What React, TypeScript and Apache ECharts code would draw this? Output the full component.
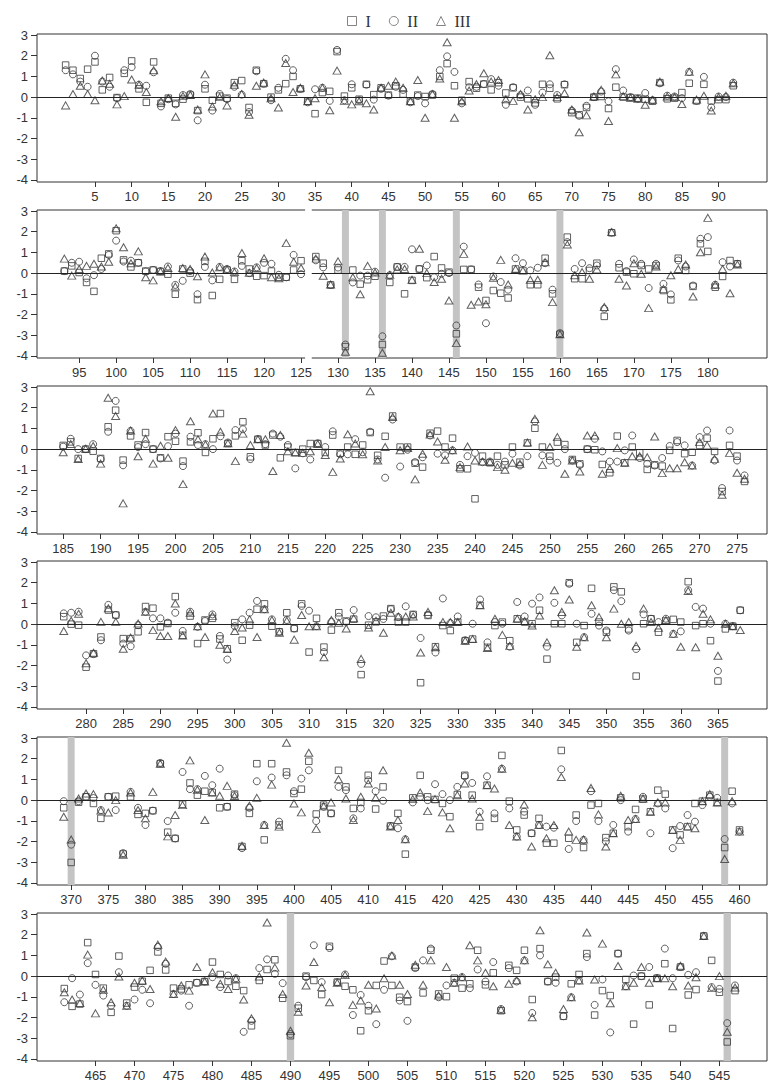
import React, { useEffect, useRef } from "react";
import * as echarts from "echarts";

// ---------- data (residue-indexed values, one array per panel & series) ----------
const P1_START = 1;
const p1I = [1.55,1.3,0.9,1.35,1.7,0.35,0.95,-0.02,1.15,1.75,0.4,-0.25,1.7,-0.3,-0.05,-0.3,-0.1,0.1,-0.65,0.4,-0.15,0.05,-0.05,0.7,0.8,-0.5,1.3,0.65,0,0.35,0.65,1.0,0.4,-0.2,-0.8,0.22,0.28,2.2,0.05,0.45,-0.1,0.62,0.12,0.45,0.1,0.55,0.15,-0.2,0.1,0.03,0.1,1.0,1.62,0.55,-0.15,0.75,0.43,0.63,0.35,0.7,0.2,0.45,0,-0.08,-0.28,0.62,0.43,-0.08,0.6,-0.75,-0.85,-0.5,0,0.03,-0.55,0.48,0,-0.02,-0.05,-0.1,-0.2,0.7,-0.08,-0.05,0.22,0.67,-0.18,0.62,-0.18,-0.12,-0.12,0.55];
const p1II = [1.3,1.1,0.75,0.5,2.0,0.75,0.5,-0.05,1.3,1.45,0.6,0.55,1.2,-0.45,-0.1,-0.35,0.1,0.15,-1.12,0.6,-0.65,0.15,-0.1,0.5,0.12,-0.72,1.25,0.65,-0.15,0.45,1.85,1.3,0.4,-0.25,0.38,0.45,-0.18,2.28,-0.15,0.62,-0.15,0.6,-0.12,0.4,0.07,0.5,0.35,-0.25,0.05,-0.3,0.15,1.3,1.97,1.22,-0.3,0.48,0.5,0.63,0.87,0.55,-0.37,0.48,0.1,0.32,-0.37,0.22,0.62,0.1,0.62,-0.65,-0.9,-0.42,0,0.27,-0.2,1.35,0.32,0,-0.08,0.2,-0.15,0.67,0.07,0.03,-0.05,1.22,-0.18,0.98,-0.5,0.03,0,0.7];
const p1III = [-0.4,0.15,0.55,0.15,-0.15,0.8,0.65,-0.35,0.05,0.85,0.6,0.25,1.3,-0.2,-0.05,-0.95,0.05,0.1,-0.6,1.1,-0.45,0,-0.4,0.6,0.15,-0.85,0.55,0.7,-0.05,-0.5,1.65,0.25,0.45,-0.2,-0.05,0.45,-0.63,1.28,-0.18,-0.35,-0.2,-0.3,-0.6,0.45,0.55,0.75,0.45,-0.2,0.83,-1.0,0.15,0.9,2.65,-1.0,-0.2,0.32,0.63,1.15,0.75,0.83,-0.1,-0.18,0.15,-0.6,-0.1,0,2.02,0,0.2,-0.6,-1.7,-0.88,0.03,0.35,-1.15,1.1,0.05,-0.03,-0.08,-0.37,-0.13,0.75,0.03,0,-0.33,1.22,-0.12,0.07,-0.65,0,0.07,0.67];

const P2_START = 93;
const p2I = [0.1,0.35,0.03,-0.45,-0.88,0.72,0.93,2.05,0.64,0.3,0.5,0.1,0.15,0.08,-0.05,-1.02,0.2,0,-1.28,0.57,-1.08,-0.3,0.15,-0.3,0.6,0.2,-0.15,-0.12,0.1,-0.2,-0.2,0.15,0.6,null,0.8,0.48,-0.57,0.15,-3.55,0.15,-0.53,-0.32,-0.15,-3.45,-0.45,0.3,-1.0,-0.35,0.2,-0.22,0.8,0.25,0.05,-2.93,0.18,0.18,-0.68,-1.32,-0.84,-0.97,-1.2,0.2,0.13,-0.56,-0.56,0.72,-1.0,-2.95,1.74,-0.27,-0.27,0.13,0.48,-2.09,1.95,0.26,0.05,-0.03,0.37,0.2,0.37,-0.84,-1.29,0.72,0.13,-0.64,1.42,1.05,-0.68,-0.16,0.61,0.45];
const p2II = [0.1,0.5,0.55,-0.25,-0.1,0.2,0.88,1.57,0.56,0.6,0.5,0.08,0.15,0.1,0.32,-0.57,-0.37,0.1,-1.02,0.3,-0.35,0.3,0.2,0.08,0.35,0,0.28,0.5,0.45,-0.08,-0.2,0.88,-0.05,null,0.62,0.28,-0.57,0.27,-3.45,-0.45,-0.12,-0.12,0.07,-3.05,-0.1,0.3,0.3,1.15,0.2,0.37,-0.2,-0.03,0,-2.53,1.28,0.18,-0.55,-2.42,-0.16,-0.43,-0.8,0.72,0.48,0.13,0.26,0.48,-0.8,-2.9,1.5,0.2,0.48,0.24,0.37,-1.72,1.96,0.45,0.1,0.66,0.45,-0.72,0.45,-0.52,-1.03,0.61,0.32,-0.6,1.66,1.74,-0.56,0.53,0.32,0.45];
const p2III = [0.7,-0.12,0.2,0.35,0.45,0.32,0.55,2.17,1.25,0.48,1.05,-0.2,-0.35,0.08,0.25,-0.65,0.25,0.2,-0.15,0.8,0.03,0.28,0.18,0.05,0.97,0.02,0.25,0.72,-0.2,-0.25,1.45,0.55,0.25,null,0.7,-0.13,-0.55,0.57,-3.8,-0.2,-1.02,0.35,0.03,-3.85,-0.08,0.18,0.2,-0.32,1.18,0,-0.43,-0.27,-1.32,-3.38,0.93,-1.53,-1.37,-1.5,-0.22,0.64,-0.55,0.2,0.13,-0.32,-0.32,0.53,-1.4,-2.95,1.38,-0.1,0.05,-0.27,0.18,-1.64,1.98,-0.27,-0.6,0.48,-0.03,-1.69,0.32,-0.76,-0.1,0.2,0.42,-1.13,1.01,2.67,-0.56,0.2,-0.97,0.42];

const P3_START = 185;
const p3I = [0.18,0.35,-0.45,0,-0.1,-0.45,1.08,1.88,-0.53,0.64,0.2,0.8,0,-0.42,0.6,0.38,-0.58,0.35,0.79,-0.16,0.5,1.72,0.27,0.64,1.32,-0.37,0.48,0.2,0.68,-0.42,0.1,-0.16,0,0.27,0.27,-0.16,0.68,-0.2,0.1,-0.25,0.2,0.8,-0.3,0.62,1.6,0.1,0.1,-0.68,-0.87,0.77,0.87,0.1,0.53,-0.95,-0.95,-2.4,-0.34,-0.66,-0.34,-0.76,0.1,-0.63,0.3,1.01,0.1,-0.34,0.34,0.22,-0.5,-0.71,0,-0.03,-0.74,-1.14,0.63,-0.66,0.1,-0.18,-0.98,-0.76,-0.82,-0.06,0.42,-0.22,-0.15,0.18,0.53,-0.11,-2.05,0.18,-0.34,-1.56];
const p3II = [0.12,0.5,0,0,0.24,-0.48,0.84,2.33,-0.78,0.88,0.1,0.24,0,-0.45,0.14,0.75,-0.82,0.6,0.2,0.24,0,0.62,0.32,0.92,0.96,-0.48,0.48,0.24,0.75,0.6,0.2,-0.93,-0.2,-0.5,0.28,0.1,0.86,-0.25,-0.25,0.48,-0.15,0.84,-0.5,-1.38,1.43,-0.84,-0.03,-0.63,-0.39,0.66,-0.22,-0.3,-0.06,-0.76,-0.34,-0.18,-0.63,-0.6,-0.76,-0.6,-0.22,-0.79,-0.34,1.34,-0.3,-0.55,-0.66,0,-0.55,-0.76,0,0.5,-0.11,-0.6,-0.6,-0.06,0.66,-0.43,-0.71,-0.79,-0.43,0.15,0.34,0.18,-0.79,0.58,0.9,-0.55,-1.88,0.9,-0.55,-1.27];
const p3III = [-0.15,0.25,-0.48,0.02,0.15,-0.7,2.48,1.6,-2.62,0.9,-0.34,0.5,-0.7,0.16,-0.42,0.92,-1.69,1.35,0.48,0.22,1.72,0.84,0.28,-0.58,0.75,0.2,0.48,0.48,-1.06,0.68,-0.1,-0.16,-0.18,-0.1,0.25,-0.28,-1.1,-0.45,0.72,0.27,-0.25,2.8,-0.55,0.1,1.55,-0.05,0.05,-1.46,-0.22,0.7,0.37,-0.51,-0.05,-0.87,0.13,-0.55,-0.6,-0.62,-0.87,-1.0,-0.66,-0.71,0.32,1.46,-0.76,0.1,0.58,-1.19,-0.55,-1.08,0.66,0.66,-1.19,-0.95,0.05,-0.66,-0.34,-0.34,-0.39,0.61,-1.16,-0.92,-0.92,-0.63,-0.79,0.34,0.18,-0.47,-2.2,-0.18,-1.14,-1.43];

const P4_START = 277;
const p4I = [0.36,0,-0.05,-2.08,-1.43,-0.62,0.68,0.44,-0.7,-0.7,-0.37,0.85,0.77,-0.13,0.03,1.33,-0.54,0.39,-0.94,0.2,0.28,-0.72,-1.19,0.07,-0.78,-0.05,0.72,0.98,-0.1,-0.37,0.55,-0.21,0.98,-1.35,0.28,-1.11,-0.29,0.55,0.15,0.24,-2.44,-0.05,0.11,0.39,0.75,0.1,0.1,0.47,-2.83,0.42,-1.09,-0.07,-0.31,0.1,-0.8,-0.72,0.91,-1.12,-0.07,0.1,-0.8,0.26,0.1,0.02,0.67,-1.69,0.02,0.02,2.0,-0.88,-0.07,1.73,0.1,-0.39,1.8,1.56,-0.23,-2.51,0.02,0.26,-0.39,0.15,0.23,0.1,2.05,-0.07,0.02,-0.8,-2.75,-0.23,-0.1,0.67];
const p4II = [0.52,0.55,0.6,-1.51,-1.45,-0.78,0.93,0.44,-0.94,-1.07,-0.05,0.6,0.28,0.28,0.07,0.55,-0.33,0.6,-0.13,0.15,0.47,-0.57,-1.71,-0.1,0.23,0.55,1.12,0.72,0.23,-0.37,0.2,-0.21,0.88,0.65,-0.1,-1.35,0.11,0.36,0.11,0.68,-1.92,0.39,0.33,0.25,0.72,0.34,0.86,0.45,-0.67,0.45,-1.37,1.24,0.05,0.37,-0.78,0.02,1.19,-0.88,0.1,0.02,-1.09,1.07,0.37,0.99,1.29,-1.09,1.03,0.42,1.95,0.02,-0.63,0.5,-0.07,-0.31,1.64,1.11,-0.31,-1.2,0.47,0.26,0.1,0.26,-0.47,-0.35,1.64,0.83,0.75,0.02,-2.26,0.02,-0.1,0.67];
const p4III = [-0.33,0.16,0.5,-1.89,-1.38,0.11,0.77,0.11,-1.19,-0.65,0.03,0.6,-0.29,-0.57,-0.57,1.0,-0.55,0.55,-0.1,-0.62,0.4,-1.0,-1.2,-0.33,-0.16,0.23,-0.62,0.72,0.2,-0.42,0.16,-0.75,0.44,-0.1,-0.1,-1.6,0.2,0.07,-0.21,0.28,-1.68,-0.16,0.16,-0.42,0.55,0.37,0.37,0.37,-1.37,0.59,-1.12,0.1,0.1,0.1,-0.8,-0.72,0.91,-1.15,0.26,-0.52,-1.05,0.26,0.15,-0.07,0.42,-0.88,1.64,0.59,1.19,-1.09,-0.63,0.91,0.34,-0.63,0.75,0.02,0.1,-1.05,0.75,0.1,-0.18,0.2,-0.47,-1.09,1.6,-1.12,0.5,0.23,-1.53,0.02,-0.1,-0.28];

const P5_START = 369;
const p5I = [-0.37,-3.01,-0.1,0.16,-0.16,-0.88,0.16,0.19,-2.6,0.16,-0.69,-0.64,-0.51,1.76,-1.55,-1.85,-0.2,0.83,0.24,0.43,0.37,-0.37,-0.32,0.29,-2.24,-0.64,1.76,-1.92,1.76,-1.2,1.36,0.32,0.53,1.88,-0.67,-0.24,-0.64,1.44,0.64,-0.4,-0.11,1.2,-0.43,0.64,-1.25,-0.64,-2.61,0.11,1.2,0.16,0.03,-0.16,-0.8,0.27,1.2,0.24,-1.28,0.72,-0.88,2.16,-0.05,-1.44,-0.72,-1.6,-0.88,-2.08,-2.08,2.4,-1.84,-0.72,-2.29,-0.24,-0.16,-1.81,-1.6,0.11,-1.28,-0.45,0.05,-0.56,0.48,0.29,-1.44,-1.68,-1.28,-0.16,-0.05,0.24,-0.11,-2.29,0.43,-1.44];
const p5II = [-0.05,-2.15,-0.05,0.16,0.1,-0.48,0.16,-0.48,-2.56,0.4,-0.37,-1.2,-0.51,1.8,-1.01,-1.85,1.36,0.53,0.53,1.17,0.72,1.52,-0.32,0.24,-2.32,-0.37,0.91,-1.2,1.09,-1.04,1.2,0.43,1.04,1.44,-1.01,-0.32,-0.64,0.64,0.48,-0.88,-0.4,0.96,0.43,-0.03,-1.25,-1.36,-1.89,-0.11,0.16,0,0.77,0.29,0,0.64,1.15,0.83,-0.56,1.15,-0.64,1.52,-0.4,-1.76,-0.56,-1.6,-1.2,-1.28,-1.33,1.49,-2.36,-1.01,-1.92,0.43,-1.01,-2.0,-1.2,0,-1.52,-0.91,0.16,-1.6,-0.16,-0.4,-2.32,-1.25,-0.72,-1.04,-0.24,0.16,0.11,-1.88,-0.16,-1.52];
const p5III = [-0.8,-1.9,0.08,0.32,0.29,-0.5,-0.6,0,-2.64,0.37,-0.48,-0.88,0.4,1.76,-1.75,-0.72,-0.24,1.92,0.5,-0.96,0.37,0.21,0.69,0.2,-2.2,-0.27,0.11,-1.2,0.75,-1.28,2.77,-0.16,-0.59,2.29,-1.39,-0.3,-0.11,1.01,0.08,-0.96,0.16,0.8,0.11,1.44,-1.28,-0.96,-1.89,0.05,0.37,-0.53,0.05,-0.59,-1.36,0.24,0.8,0.08,-0.8,0.72,0.56,1.52,-1.2,-1.76,-0.21,-2.24,-1.2,-1.84,-1.2,1.12,-1.52,-1.92,-1.9,0.59,-0.69,-2.24,-1.6,0.21,-0.96,-0.91,0.08,-0.56,-0.11,-0.11,-1.44,-1.92,-1.28,-1.36,-0.05,0.29,-0.11,-2.84,-0.05,-1.52];

const P6_START = 461;
const p6I = [-0.6,-1.46,-1.35,1.62,0.08,-0.58,-1.75,0.97,-1.3,-0.53,-0.25,0.28,1.17,0.3,-0.58,-0.62,-0.42,-0.32,-0.26,0.68,0.08,-0.26,-0.49,-0.7,-2.4,-0.21,0.32,0.79,-1.07,-2.88,-1.55,0,-0.21,-0.89,1.44,-0.29,-0.49,-0.66,-2.64,-1.67,-0.45,0.73,-0.45,-1.02,-1.23,0.44,-0.81,1.25,-0.86,-0.99,-0.1,-0.58,-0.37,1.25,-0.42,0.16,-1.67,0.52,0.28,1.25,-1.13,1.33,-0.26,-0.05,-1.94,-0.37,0.08,1.09,-1.88,-0.7,-0.94,1.09,-0.16,-2.32,0,-1.39,-0.1,0.6,-2.53,0.44,-0.91,-0.65,1.94,0.76,-0.78,-3.18,-0.7];
const p6II = [-1.26,-0.1,-0.89,0.63,-0.42,-0.94,-1.43,0.19,-1.43,-1.13,-0.66,-1.31,1.41,0.6,-0.86,-0.7,-1.43,-0.32,-0.26,-0.05,-0.53,0.03,-0.1,-2.69,-2.16,0.39,0.81,0.11,-0.34,-2.8,-1.43,-0.05,1.49,-0.29,1.36,-0.3,0.08,-1.88,-0.91,-1.43,-2.32,-0.66,0.96,-1.18,-2.16,0.39,0.76,1.33,-1.02,-0.45,-0.32,-0.05,-0.58,0.32,-0.26,0.68,-1.59,0.39,-0.26,0.76,-1.78,1.0,-0.26,-0.32,-1.94,-1.02,-0.21,0.92,-1.39,-0.16,-2.72,1.09,-0.49,0.03,0,0.44,-0.1,1.33,-0.1,0.44,0.06,0.19,1.94,-0.53,-0.62,-2.27,-0.45];
const p6III = [-0.78,-1.13,-1.3,1.04,-1.8,-0.66,-1.26,-0.02,-1.43,-0.32,-0.21,-0.62,1.52,0.7,-0.86,-0.45,-0.7,0.44,-0.26,0.19,-0.37,-0.62,-0.13,-1.13,-2.04,-0.02,2.59,0.41,-0.86,-2.64,-1.72,-0.45,0.68,-0.53,-1.26,-0.32,0.05,-1.39,-1.18,-0.42,-1.56,-0.1,1.0,-0.42,-0.86,0.55,-0.42,0.76,-0.94,0.44,-0.32,-0.05,1.49,0.76,0.16,-0.49,-1.62,-0.37,-0.2,0.76,-1.99,2.22,0.57,0.16,-1.59,-1.02,-0.21,2.11,-0.16,1.57,-1.31,0.49,-0.49,-0.32,0.44,-0.32,-0.1,-0.1,-0.49,0.5,-0.45,-0.05,1.94,-0.58,0,-2.69,-0.55];

// highlighted residues (grey bars) and the blank gap
const GRAY_BARS = [[], [131, 136, 146, 160], [], [], [370, 458], [490, 546]];
const GAP_BARS = [[], [126], [], [], [], []];

// x tick labels: first / last label of each panel (step 5)
const TICK_FIRST = [5, 95, 185, 280, 370, 465];
const TICK_LAST = [90, 180, 275, 365, 460, 545];
const Y_TICKS = [-4, -3, -2, -1, 0, 1, 2, 3];
const SERIES_NAMES = ["I", "II", "III"];

// ---------- layout ----------
const X_MIN = [-2.9, 89.3, 181.5, 273.4, 365.4, 457.5];
const X_MAX = [96.6, 188, 279, 371.6, 463.7, 551.1];
const Y_MIN = -4.1;
const Y_MAX = 3.05;
const GRID_TOPS = [34, 210, 386, 561, 737, 913];
const GRID_H = 148;
const GRID_LEFT = 37;
const GRID_W = 730;

const PANELS = [
  { start: P1_START, vals: [p1I, p1II, p1III] },
  { start: P2_START, vals: [p2I, p2II, p2III] },
  { start: P3_START, vals: [p3I, p3II, p3III] },
  { start: P4_START, vals: [p4I, p4II, p4III] },
  { start: P5_START, vals: [p5I, p5II, p5III] },
  { start: P6_START, vals: [p6I, p6II, p6III] },
];

const SYMBOLS = ["rect", "circle", "triangle"];
const SYMBOL_SIZES: any[] = [6.5, 7, [8, 7]];
const INK = "#3a3a3a";
const LABEL_FONT = "'Liberation Sans', Arial, sans-serif";

function ticks(a: number, b: number) {
  const out: number[] = [];
  for (let v = a; v <= b; v += 5) out.push(v);
  return out;
}

export default function App() {
  const ref = useRef<HTMLDivElement>(null);

  useEffect(() => {
    document.body.style.margin = "0";
    const chart = echarts.init(ref.current!, null, { renderer: "svg" });

    const grids: any[] = [];
    const xAxes: any[] = [];
    const yAxes: any[] = [];
    const series: any[] = [];

    PANELS.forEach((p, i) => {
      grids.push({
        left: GRID_LEFT,
        top: GRID_TOPS[i],
        width: GRID_W,
        height: GRID_H,
        show: true,
        borderColor: "#333",
        borderWidth: 1,
        backgroundColor: "transparent",
        containLabel: false,
      });
      const xt = ticks(TICK_FIRST[i], TICK_LAST[i]);
      xAxes.push({
        type: "value",
        gridIndex: i,
        min: X_MIN[i],
        max: X_MAX[i],
        axisLine: { show: false, onZero: false },
        splitLine: { show: false },
        axisTick: { show: true, customValues: xt, length: 5, inside: false, lineStyle: { color: "#333", width: 1 } },
        axisLabel: { show: true, customValues: xt, margin: 8, fontSize: 13, color: "#333", fontFamily: LABEL_FONT },
      });
      yAxes.push({
        type: "value",
        gridIndex: i,
        min: Y_MIN,
        max: Y_MAX,
        axisLine: { show: false, onZero: false },
        splitLine: { show: false },
        axisTick: { show: true, customValues: Y_TICKS, length: 6, inside: false, lineStyle: { color: "#333", width: 1 } },
        axisLabel: { show: true, customValues: Y_TICKS, margin: 9, fontSize: 13, color: "#333", fontFamily: LABEL_FONT },
      });

      // zero reference line
      series.push({
        type: "scatter",
        xAxisIndex: i,
        yAxisIndex: i,
        data: [],
        z: 1,
        silent: true,
        markLine: {
          silent: true,
          symbol: ["none", "none"],
          label: { show: false },
          lineStyle: { color: "#222", width: 1, type: "solid" },
          data: [{ yAxis: 0 }],
        },
      });

      // grey highlight bars
      series.push({
        type: "custom",
        xAxisIndex: i,
        yAxisIndex: i,
        z: 2,
        silent: true,
        clip: false,
        data: GRAY_BARS[i].map((x) => [x, 0]),
        encode: { x: 0, y: 1 },
        renderItem: (_params: any, api: any) => {
          const x = api.value(0);
          const a = api.coord([x - 0.47, Y_MAX]);
          const b = api.coord([x + 0.47, Y_MIN]);
          return {
            type: "rect",
            shape: { x: a[0], y: a[1], width: b[0] - a[0], height: b[1] - a[1] },
            style: { fill: "#c4c4c4" },
          };
        },
      });

      // blank gap (cuts the frame)
      series.push({
        type: "custom",
        xAxisIndex: i,
        yAxisIndex: i,
        z: 5,
        silent: true,
        clip: false,
        data: GAP_BARS[i].map((x) => [x, 0]),
        encode: { x: 0, y: 1 },
        renderItem: (_params: any, api: any) => {
          const x = api.value(0);
          const a = api.coord([x - 0.45, Y_MAX]);
          const b = api.coord([x + 0.45, Y_MIN]);
          return {
            type: "rect",
            shape: { x: a[0], y: a[1] - 2, width: b[0] - a[0], height: b[1] - a[1] + 4 },
            style: { fill: "#ffffff" },
          };
        },
      });

      p.vals.forEach((arr, s) => {
        const data: any[] = [];
        arr.forEach((v, k) => {
          if (v !== null && v !== undefined) data.push([p.start + k, v]);
        });
        series.push({
          type: "scatter",
          name: SERIES_NAMES[s],
          xAxisIndex: i,
          yAxisIndex: i,
          z: 3,
          symbol: SYMBOLS[s],
          symbolSize: SYMBOL_SIZES[s],
          itemStyle: { color: "rgba(0,0,0,0)", borderColor: INK, borderWidth: 1 },
          data,
        });
      });
    });

    chart.setOption({
      animation: false,
      backgroundColor: "#ffffff",
      legend: {
        data: SERIES_NAMES,
        top: 8,
        left: 342,
        itemWidth: 9,
        itemHeight: 9,
        itemGap: 18,
        itemStyle: { color: "rgba(0,0,0,0)", borderColor: "#666", borderWidth: 1 },
        textStyle: {
          fontFamily: "'Liberation Serif', 'Times New Roman', serif",
          fontSize: 16,
          color: "#333",
          padding: [0, 0, 0, 4],
        },
        selectedMode: false,
      },
      grid: grids,
      xAxis: xAxes,
      yAxis: yAxes,
      series,
    });

    return () => chart.dispose();
  }, []);

  return <div ref={ref} style={{ width: 774, height: 1091 }} />;
}
